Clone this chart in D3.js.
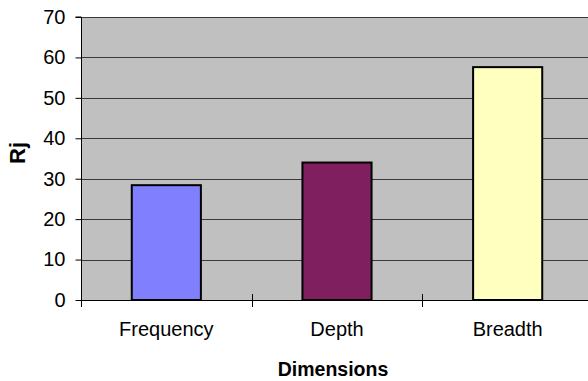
<!DOCTYPE html>
<html>
<head>
<meta charset="utf-8">
<script src="https://cdn.jsdelivr.net/npm/d3@7"></script>
<style>
  html, body { margin: 0; padding: 0; background: #ffffff; }
  svg { display: block; }
  text { font-family: Arial, "Liberation Sans", sans-serif; fill: #000; }
</style>
</head>
<body>
<svg id="chart" width="588" height="381"></svg>
<script>
const categories = ["Frequency", "Depth", "Breadth"];
const values = [28.4, 34.0, 57.6];
const barColors = ["#8080FF", "#7F1F5F", "#FFFFC0"];
const yTicks = [0, 10, 20, 30, 40, 50, 60, 70];
const yTitle = "Rj";
const xTitle = "Dimensions";

const svg = d3.select("#chart");
const m = { left: 81, top: 17, bottom: 300, right: 593 };

const x = d3.scaleBand().domain(categories).range([m.left, m.right])
  .paddingInner(0.595).paddingOuter(0.2975);
const xBand = d3.scaleBand().domain(categories).range([m.left, m.right]).padding(0);
const y = d3.scaleLinear().domain([0, 70]).range([m.bottom, m.top]);

// plot background
svg.append("rect")
  .attr("x", m.left).attr("y", m.top)
  .attr("width", m.right - m.left).attr("height", m.bottom - m.top)
  .attr("fill", "#C0C0C0");

// gridlines
svg.append("g").selectAll("line").data(yTicks.filter(d => d > 0)).join("line")
  .attr("x1", m.left).attr("x2", m.right)
  .attr("y1", d => Math.round(y(d)) + 0.5).attr("y2", d => Math.round(y(d)) + 0.5)
  .attr("stroke", "#3a3a3a").attr("stroke-width", 1);

// bars
svg.append("g").selectAll("rect").data(categories).join("rect")
  .attr("x", d => x(d))
  .attr("y", (d, i) => y(values[i]))
  .attr("width", x.bandwidth())
  .attr("height", (d, i) => y(0) - y(values[i]))
  .attr("fill", (d, i) => barColors[i])
  .attr("stroke", "#000").attr("stroke-width", 2);

// y axis
const yAxis = d3.axisLeft(y).tickValues(yTicks).tickSize(6).tickPadding(10);
const gy = svg.append("g").attr("transform", `translate(${m.left + 0.5},0)`).call(yAxis);
gy.select(".domain").attr("stroke", "#000").attr("d", `M-6,${m.top}H0V${m.bottom}`);
gy.selectAll(".tick line").attr("stroke", "#000");
gy.selectAll(".tick text").attr("font-size", "20px").attr("font-family", "Arial, 'Liberation Sans', sans-serif");

// x axis line
svg.append("line")
  .attr("x1", m.left).attr("x2", m.right)
  .attr("y1", m.bottom + 0.5).attr("y2", m.bottom + 0.5)
  .attr("stroke", "#000");

// x category boundary ticks
const boundaries = categories.map(c => xBand(c));
svg.append("g").selectAll("line").data(boundaries).join("line")
  .attr("x1", d => Math.round(d) + 0.5).attr("x2", d => Math.round(d) + 0.5)
  .attr("y1", m.bottom - 6).attr("y2", m.bottom + 7)
  .attr("stroke", "#000");

// category labels
svg.append("g").selectAll("text").data(categories).join("text")
  .attr("x", d => xBand(d) + xBand.bandwidth() / 2)
  .attr("y", 336)
  .attr("text-anchor", "middle")
  .attr("font-size", "20px")
  .text(d => d);

// axis titles
svg.append("text")
  .attr("x", 333).attr("y", 376)
  .attr("text-anchor", "middle")
  .attr("font-size", "19.5px").attr("font-weight", "bold")
  .text(xTitle);

svg.append("text")
  .attr("transform", "translate(25,153) rotate(-90)")
  .attr("text-anchor", "middle")
  .attr("font-size", "22px").attr("font-weight", "bold")
  .text(yTitle);
</script>
</body>
</html>
